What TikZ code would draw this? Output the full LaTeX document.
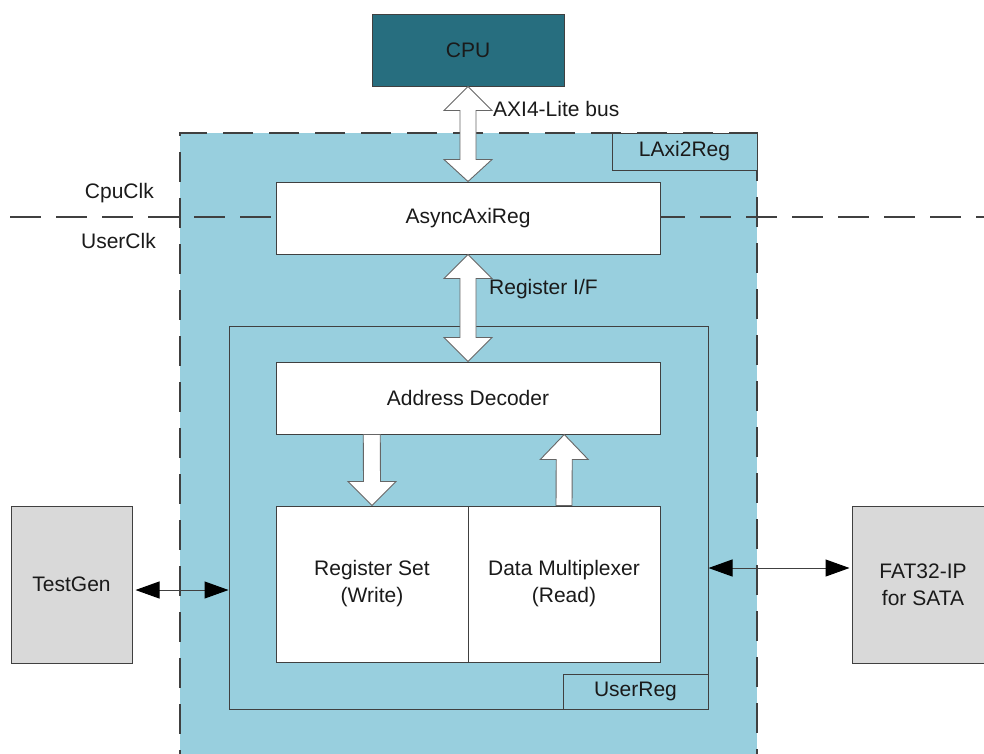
\documentclass[tikz,border=0pt]{standalone}
\usepackage{fontspec}
\setmainfont{Liberation Sans}
\usetikzlibrary{arrows.meta,calc}
\definecolor{lblue}{HTML}{98CFDE}
\definecolor{cpuc}{HTML}{276E7F}
\definecolor{gbox}{HTML}{D9D9D9}
\definecolor{edgec}{HTML}{404040}
\definecolor{txt}{HTML}{1A1A1A}
\begin{document}
\begin{tikzpicture}[x=1pt,y=-1pt,
  font=\fontsize{21}{27}\selectfont,
  box/.style={draw=edgec, line width=1pt, inner sep=0pt, align=center, text=txt},
  wbox/.style={box, fill=white},
  gbx/.style={box, fill=gbox},
  lbl/.style={box, fill=lblue},
  clkdash/.style={draw=edgec, line width=2pt, dash pattern=on 31pt off 15pt},
  barrow/.style={fill=white, draw=edgec!80, line width=0.9pt, line join=miter},
  tarrow/.style={draw=edgec, line width=1pt, {Triangle[length=24pt,width=17pt,fill=black,color=black]}-{Triangle[length=24pt,width=17pt,fill=black,color=black]}},
  plain/.style={text=txt, inner sep=0pt}]
\useasboundingbox (0,0) rectangle (984,753);
% outer LAxi2Reg region
\node[fill=lblue, draw=edgec, line width=2pt, dash pattern=on 30pt off 16pt, minimum width=577pt, minimum height=667pt, inner sep=0pt] (lax) at (468.5,466.5) {};
\node[lbl, minimum width=145pt, minimum height=37pt] (laxl) at (684.5,151.5) {LAxi2Reg};
% clock domain line
\coordinate (clkL) at (10,217);
\coordinate (clkR) at (990,217);
\draw[clkdash] (clkL) -- (clkR);
\node[plain, anchor=east] (cpuclk) at (154,193) {CpuClk};
\node[plain, anchor=east] (userclk) at (156,241) {UserClk};
% CPU
\node[box, fill=cpuc, minimum width=192pt, minimum height=72pt] (cpu) at (468,50) {CPU};
% AsyncAxiReg
\node[wbox, minimum width=384pt, minimum height=72pt] (async) at (468,218) {AsyncAxiReg};
% UserReg
\node[box, fill=lblue, minimum width=479pt, minimum height=383pt] (userreg) at (468.5,517.5) {};
\node[lbl, minimum width=145pt, minimum height=35pt] (userregl) at (635.5,691.5) {UserReg};
% inner blocks
\node[wbox, minimum width=384pt, minimum height=72pt] (addr) at (468,398) {Address Decoder};
\node[wbox, minimum width=192pt, minimum height=156pt] (regset) at (372,584) {Register Set\\(Write)};
\node[wbox, minimum width=192pt, minimum height=156pt] (datamux) at (564,584) {Data Multiplexer\\(Read)};
% external blocks
\node[gbx, minimum width=121pt, minimum height=157pt] (testgen) at (71.5,584.5) {TestGen};
\node[gbx, minimum width=142pt, minimum height=157pt] (fat) at (923,584.5) {FAT32-IP\\for SATA};
% block arrows
\draw[barrow] (cpu.south) -- ($(cpu.south)+(24,24)$) -- ($(cpu.south)+(8,24)$) -- ($(async.north)+(8,-22)$) -- ($(async.north)+(24,-22)$) -- (async.north) -- ($(async.north)+(-24,-22)$) -- ($(async.north)+(-8,-22)$) -- ($(cpu.south)+(-8,24)$) -- ($(cpu.south)+(-24,24)$) -- cycle;
\draw[barrow] (async.south) -- ($(async.south)+(24,24)$) -- ($(async.south)+(8,24)$) -- ($(addr.north)+(8,-24)$) -- ($(addr.north)+(24,-24)$) -- (addr.north) -- ($(addr.north)+(-24,-24)$) -- ($(addr.north)+(-8,-24)$) -- ($(async.south)+(-8,24)$) -- ($(async.south)+(-24,24)$) -- cycle;
\coordinate (dtop) at ($(addr.south west)!0.25!(addr.south east)$);
\coordinate (utop) at ($(addr.south west)!0.75!(addr.south east)$);
\draw[barrow] ($(dtop)+(-8.5,0)$) -- ($(dtop)+(8.5,0)$) -- ($(regset.north)+(8.5,-24)$) -- ($(regset.north)+(24,-24)$) -- (regset.north) -- ($(regset.north)+(-24,-24)$) -- ($(regset.north)+(-8.5,-24)$) -- cycle;
\draw[barrow] ($(datamux.north)+(-8,0)$) -- ($(datamux.north)+(8,0)$) -- ($(utop)+(8,25)$) -- ($(utop)+(24,25)$) -- (utop) -- ($(utop)+(-24,25)$) -- ($(utop)+(-8,25)$) -- cycle;
\node[plain, anchor=west] (axil) at (493,109) {AXI4-Lite bus};
\node[plain, anchor=west] (regif) at (489,289) {Register I/F};
% thin arrows
\draw[tarrow] ($(testgen.east |- 0,590)+(3,0)$) -- (userreg.west |- 0,590);
\draw[tarrow] (userreg.east |- 0,568) -- ($(fat.west |- 0,568)+(-2,0)$);
\end{tikzpicture}
\end{document}
